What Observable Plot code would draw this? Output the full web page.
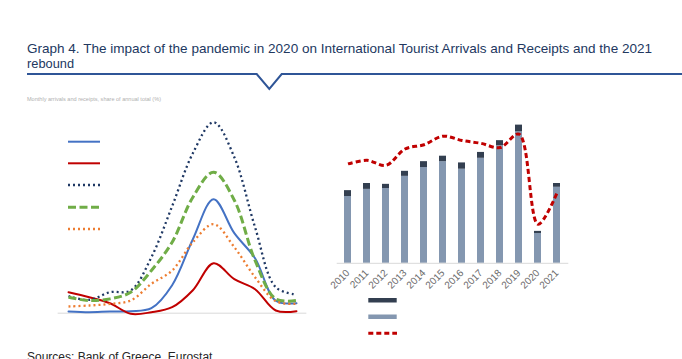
<!DOCTYPE html>
<html><head><meta charset="utf-8">
<script src="https://cdn.jsdelivr.net/npm/d3@7"></script>
<script src="https://cdn.jsdelivr.net/npm/@observablehq/plot@0.6"></script>
<style>
body{margin:0;background:#fff;}
#root{position:relative;width:682px;height:359px;overflow:hidden;font-family:"Liberation Sans",Arial,sans-serif;background:#fff;}
.abs{position:absolute;}
</style></head><body>
<div id="root">
<svg class="abs" style="left:0;top:0" width="682" height="110">
 <text x="27" y="53" font-size="13.5" fill="#22385f" textLength="625" lengthAdjust="spacingAndGlyphs">Graph 4. The impact of the pandemic in 2020 on International Tourist Arrivals and Receipts and the 2021</text>
 <text x="27" y="68" font-size="13.5" fill="#22385f" textLength="47" lengthAdjust="spacingAndGlyphs">rebound</text>
 <polyline points="27,74 256.7,74 269.3,89 281.7,74 682,74" fill="none" stroke="#2f5597" stroke-width="2"/>
 <text x="27" y="101" font-size="4.5" fill="#b0b0b0" textLength="134" lengthAdjust="spacingAndGlyphs">Monthly arrivals and receipts, share of annual total (%)</text>
</svg>
<div id="left" class="abs" style="left:40px;top:110px"></div>
<svg class="abs" style="left:0;top:0" width="682" height="359" id="legends">
 <line x1="68" x2="100" y1="141.7" y2="141.7" stroke="#4472c4" stroke-width="2"/>
 <line x1="68" x2="100" y1="163.3" y2="163.3" stroke="#c00000" stroke-width="2"/>
 <line x1="68" x2="100" y1="185" y2="185" stroke="#1f3864" stroke-width="2.3" stroke-dasharray="2,3"/>
 <line x1="68" x2="100" y1="207.3" y2="207.3" stroke="#70ad47" stroke-width="3" stroke-dasharray="8,3.5"/>
 <line x1="68" x2="100" y1="229" y2="229" stroke="#ed7d31" stroke-width="2.3" stroke-dasharray="2,3"/>
 <rect x="368.3" y="298" width="28.4" height="4.5" fill="#333f50"/>
 <rect x="368.3" y="314.5" width="28.4" height="4.5" fill="#8497b0"/>
 <line x1="368.3" x2="397" y1="333.3" y2="333.3" stroke="#c00000" stroke-width="3" stroke-dasharray="5,3"/>
 <text x="27" y="360.5" font-size="12" fill="#262626">Sources: Bank of Greece, Eurostat</text>
</svg>
<div id="bars" class="abs" style="left:320px;top:105px"></div>
<div id="receiptsLine" class="abs" style="left:320px;top:105px"></div>
</div>
<script>
// Left chart: monthly profiles (arbitrary index units)
const months = [1,2,3,4,5,6,7,8,9,10,11,12];
const seriesBlue   = [1.7,1,1.7,2,5,28,74,114,80,55,12.5,10];
const seriesRed    = [21,16,10,-0.6,1,6,23,50,34,24,2.7,2];
const seriesNavy   = [17,13.3,21,22.7,56,107,160,191,156,86,26,18.7];
const seriesGreen  = [16,12.7,14.3,21,42.7,71,116,141,113,52.7,14.3,12.7];
const seriesOrange = [6.7,7.7,9.3,12.7,29.3,42.7,71,89,66,36,12,9.3];

// Right chart: annual values
const years = ["2010","2011","2012","2013","2014","2015","2016","2017","2018","2019","2020","2021"];
const arrivalsMain = [15.9,17.6,17.8,20.7,22.8,24.2,22.4,25.0,28.0,31.3,7.1,18.1];
const arrivalsTop  = [1.4,1.4,1.0,1.2,1.4,1.3,1.5,1.4,1.2,1.6,0.5,0.9];
const receipts     = [14.0,14.5,13.8,16.1,16.7,17.9,17.3,16.9,16.3,18.2,5.5,9.9];

const font = {fontFamily:"'Liberation Sans', Arial, sans-serif", background:"transparent", overflow:"visible"};

const lineSpecs = [
  {vals: seriesBlue,   stroke:"#4472c4", w:2,   dash:null},
  {vals: seriesRed,    stroke:"#c00000", w:2,   dash:null},
  {vals: seriesNavy,   stroke:"#1f3864", w:2.3, dash:"2,3"},
  {vals: seriesGreen,  stroke:"#70ad47", w:3,   dash:"8,3.5"},
  {vals: seriesOrange, stroke:"#ed7d31", w:2.3, dash:"2,3"}
];

const left = Plot.plot({
  width: 280, height: 215,
  marginLeft: 17.65, marginRight: 13.65, marginTop: 2.7, marginBottom: 12.3,
  style: font,
  x: {type:"linear", domain:[0.5,12.5], axis:null},
  y: {domain:[0,200], axis:null},
  marks: [
    Plot.ruleY([0], {stroke:"#d9d9d9", strokeWidth:1}),
    ...lineSpecs.map(s => Plot.line(months.map((m,i)=>({m, v:s.vals[i]})), {
      x:"m", y:"v", stroke:s.stroke, strokeWidth:s.w, strokeDasharray:s.dash,
      strokeLinecap: s.dash ? "butt" : "round",
      curve:"catmull-rom", strokeLinejoin:"round"
    }))
  ]
});
document.getElementById("left").append(left);

const barData = [
  ...years.map((y,i)=>({year:y, part:"main", value:arrivalsMain[i]})),
  ...years.map((y,i)=>({year:y, part:"top", value:arrivalsTop[i]}))
];
const xScale = {type:"band", domain:years, paddingInner:0.62, paddingOuter:0.31};
const dims = {width:362, height:200, marginLeft:16.7, marginRight:113.7, marginTop:2.4, marginBottom:42.2};

const bars = Plot.plot({
  ...dims,
  style: {...font, fontSize:"10px", color:"#595959"},
  x: {...xScale, label:null},
  y: {domain:[0,37], axis:null},
  color: {domain:["main","top"], range:["#8497b0","#333f50"]},
  marks: [
    Plot.barY(barData, Plot.stackY({x:"year", y:"value", fill:"part", order:null})),
    Plot.ruleY([0], {stroke:"#d9d9d9", strokeWidth:1}),
    Plot.axisX({tickRotate:-45, tickSize:0, tickPadding:8, fill:"#6b6b6b", fontSize:10, label:null})
  ]
});
document.getElementById("bars").append(bars);

const rl = Plot.plot({
  ...dims,
  style: font,
  x: {...xScale, axis:null},
  y: {domain:[0,21.89], axis:null},
  marks: [
    Plot.line(years.map((y,i)=>({year:y, v:receipts[i]})), {
      x:"year", y:"v", stroke:"#c00000", strokeWidth:3, strokeDasharray:"5,3",
      strokeLinecap:"butt", curve:"catmull-rom"
    })
  ]
});
document.getElementById("receiptsLine").append(rl);
</script>
</body></html>
